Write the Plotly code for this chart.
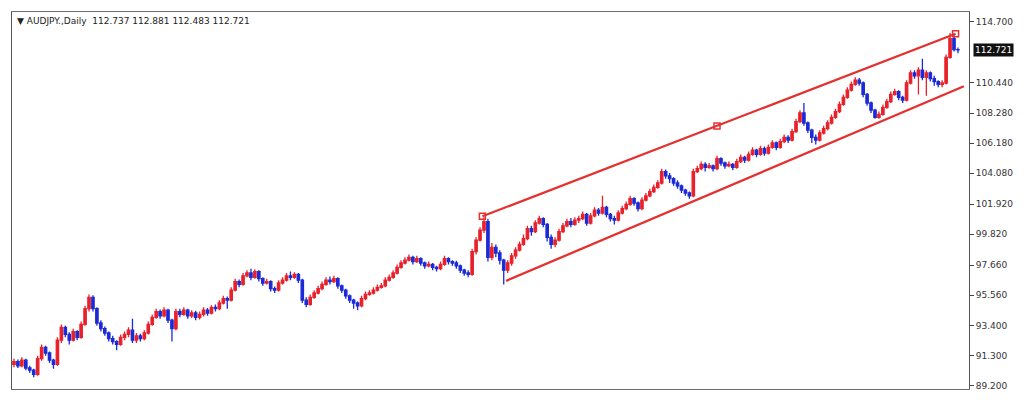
import plotly.graph_objects as go

# ---- data (AUDJPY daily) ----
first_open = 90.70
closes = [
    90.90, 90.60, 91.00, 90.45, 90.30, 90.00, 91.10, 91.90, 91.50, 91.00,
    90.70, 92.40, 93.30, 92.80, 92.40, 93.00, 92.60, 93.50, 94.60, 95.40,
    94.60, 93.60, 93.20, 92.90, 92.50, 92.30, 92.10, 92.60, 92.80, 93.10,
    92.40, 92.70, 92.50, 92.90, 93.50, 94.00, 94.40, 94.10, 94.50, 93.80,
    93.20, 94.40, 94.20, 94.50, 94.10, 94.30, 94.00, 94.20, 94.50, 94.30,
    94.70, 94.60, 95.00, 95.30, 95.20, 95.90, 96.50, 96.30, 96.90, 97.10,
    96.80, 97.20, 96.70, 96.40, 96.50, 96.00, 95.90, 96.40, 96.60, 96.90,
    96.80, 97.00, 96.60, 95.20, 94.90, 95.40, 95.70, 96.00, 96.30, 96.60,
    96.50, 96.70, 96.20, 95.90, 95.50, 95.20, 95.00, 94.80, 95.30, 95.60,
    95.70, 95.90, 96.10, 96.20, 96.60, 96.80, 97.10, 97.50, 97.80, 98.00,
    98.20, 97.90, 98.10, 97.80, 97.60, 97.70, 97.50, 97.40, 97.70, 98.10,
    97.90, 97.80, 97.60, 97.30, 97.10, 97.00, 98.60, 99.40, 100.10, 100.70,
    98.20, 98.90, 98.50, 98.00, 97.30, 97.80, 98.30, 98.70, 99.10, 99.50,
    100.20, 100.00, 100.60, 100.90, 100.50, 99.60, 99.10, 99.40, 100.00, 100.40,
    100.70, 100.50, 100.80, 100.90, 101.20, 100.60, 101.10, 101.50, 101.30, 101.70,
    101.20, 100.90, 100.80, 101.30, 101.60, 101.90, 102.30, 102.00, 101.60, 102.20,
    102.50, 102.80, 103.10, 103.40, 104.20, 103.90, 103.70, 103.40, 103.20, 102.90,
    102.70, 102.50, 104.20, 104.40, 104.70, 104.50, 104.60, 104.40, 105.10, 104.80,
    104.60, 104.70, 104.50, 104.90, 105.20, 105.00, 105.40, 105.70, 105.40, 105.80,
    105.50, 105.90, 106.20, 105.90, 106.30, 106.60, 106.40, 107.00, 107.70, 108.30,
    107.60, 107.10, 106.60, 106.40, 106.90, 107.20, 107.60, 108.00, 108.40, 108.90,
    109.40, 109.90, 110.30, 110.60, 110.40, 109.60, 109.00, 108.50, 108.00, 108.20,
    108.70, 109.10, 109.60, 109.80, 109.40, 109.20, 110.40, 111.10, 110.90, 111.30,
    110.80, 111.10, 110.70, 110.50, 110.30, 110.40, 112.20, 113.50, 112.737, 112.721,
]
highs = [
    91.10, 91.05, 91.20, 91.10, 90.60, 90.40, 91.30, 92.10, 92.00, 91.60,
    91.10, 92.60, 93.50, 93.40, 92.95, 93.20, 93.10, 93.70, 94.80, 95.60,
    95.55, 94.70, 93.80, 93.35, 93.00, 92.70, 92.40, 92.80, 93.00, 93.30,
    93.90, 92.90, 92.85, 93.10, 93.70, 94.20, 94.60, 94.55, 94.70, 94.60,
    93.90, 94.60, 94.60, 94.70, 94.60, 94.50, 94.45, 94.40, 94.70, 94.65,
    94.85, 94.90, 95.20, 95.50, 95.45, 96.10, 96.70, 96.65, 97.10, 97.30,
    97.40, 97.35, 97.30, 96.80, 96.70, 96.60, 96.15, 96.60, 96.80, 97.10,
    97.20, 97.15, 97.10, 96.70, 95.40, 95.60, 95.90, 96.20, 96.50, 96.80,
    96.85, 96.90, 96.80, 96.30, 96.00, 95.60, 95.30, 95.10, 95.50, 95.80,
    95.90, 96.10, 96.30, 96.40, 96.80, 97.00, 97.30, 97.70, 98.00, 98.20,
    98.40, 98.30, 98.30, 98.20, 97.90, 97.90, 97.80, 97.60, 97.90, 98.30,
    98.20, 98.00, 97.95, 97.70, 97.40, 97.30, 98.80, 99.60, 100.30, 101.00,
    100.90, 99.20, 99.10, 98.70, 98.10, 98.00, 98.50, 98.90, 99.30, 99.80,
    100.40, 100.40, 100.80, 101.10, 101.00, 100.60, 99.80, 99.60, 100.20, 100.60,
    100.90, 100.95, 101.00, 101.10, 101.40, 101.30, 101.30, 101.70, 101.65, 102.50,
    101.80, 101.30, 101.10, 101.50, 101.80, 102.10, 102.50, 102.40, 102.10, 102.40,
    102.70, 103.00, 103.30, 103.60, 104.40, 104.35, 104.10, 103.80, 103.60, 103.30,
    103.00, 102.80, 104.40, 104.60, 104.90, 104.85, 104.80, 104.70, 105.30, 105.20,
    104.90, 104.90, 104.80, 105.10, 105.40, 105.30, 105.60, 105.90, 105.80, 106.00,
    105.95, 106.10, 106.40, 106.30, 106.50, 106.80, 106.75, 107.20, 107.90, 108.50,
    109.00, 107.70, 107.20, 106.80, 107.10, 107.40, 107.80, 108.20, 108.60, 109.10,
    109.60, 110.10, 110.50, 110.80, 110.75, 110.50, 109.70, 109.10, 108.60, 108.40,
    108.90, 109.30, 109.80, 110.00, 109.90, 109.50, 110.60, 111.30, 111.30, 111.50,
    112.10, 111.30, 111.20, 110.90, 110.60, 110.60, 112.40, 113.90, 113.80, 112.881,
]
lows = [
    90.50, 90.45, 90.50, 90.30, 90.10, 89.80, 89.90, 90.95, 91.30, 90.80,
    90.40, 90.60, 92.20, 92.60, 92.10, 92.30, 92.40, 92.50, 93.40, 94.40,
    94.40, 93.40, 93.00, 92.70, 92.30, 92.10, 91.70, 92.00, 92.40, 92.60,
    92.20, 92.20, 92.30, 92.40, 92.80, 93.40, 93.90, 93.90, 94.00, 93.60,
    92.30, 93.10, 94.00, 94.10, 93.90, 93.95, 93.80, 93.85, 94.05, 94.10,
    94.20, 94.40, 94.50, 94.90, 94.60, 95.10, 95.80, 96.10, 96.20, 96.80,
    96.60, 96.70, 96.50, 96.20, 96.30, 95.80, 95.70, 95.80, 96.30, 96.50,
    96.60, 96.70, 96.40, 95.00, 94.70, 94.80, 95.30, 95.60, 95.90, 96.20,
    96.30, 96.40, 96.00, 95.70, 95.30, 95.00, 94.60, 94.50, 94.70, 95.20,
    95.50, 95.60, 95.80, 96.00, 96.10, 96.50, 96.70, 97.00, 97.40, 97.70,
    97.90, 97.70, 97.80, 97.60, 97.40, 97.50, 97.30, 97.20, 97.30, 97.60,
    97.70, 97.60, 97.40, 97.10, 96.90, 96.80, 96.90, 98.40, 99.30, 99.90,
    97.90, 98.00, 98.20, 97.70, 96.30, 97.10, 97.60, 98.10, 98.60, 99.00,
    99.40, 99.70, 99.90, 100.50, 100.30, 99.30, 98.80, 98.90, 99.30, 99.90,
    100.30, 100.30, 100.40, 100.60, 100.80, 100.40, 100.50, 101.00, 101.10, 101.20,
    101.00, 100.70, 100.50, 100.70, 101.20, 101.50, 101.80, 101.80, 101.40, 101.50,
    102.10, 102.40, 102.70, 103.00, 103.30, 103.70, 103.40, 103.20, 103.00, 102.70,
    102.50, 102.30, 102.40, 104.10, 104.30, 104.20, 104.40, 104.20, 104.30, 104.60,
    104.40, 104.50, 104.30, 104.40, 104.80, 104.80, 104.90, 105.30, 105.20, 105.30,
    105.30, 105.40, 105.80, 105.70, 105.80, 106.20, 106.20, 106.30, 106.90, 107.60,
    107.40, 106.90, 106.20, 106.10, 106.30, 106.80, 107.10, 107.50, 107.90, 108.30,
    108.80, 109.30, 109.80, 110.20, 110.20, 109.40, 108.80, 108.30, 107.90, 107.90,
    108.10, 108.60, 109.00, 109.50, 109.20, 109.00, 109.10, 110.30, 110.70, 109.60,
    110.60, 109.50, 110.50, 110.20, 110.10, 110.10, 110.30, 112.10, 112.60, 112.483,
]
opens = [first_open] + closes[:-1]
bars = list(range(len(closes)))

# channel drawn on the chart (bar index, price)
upper_x = [118.6, 178.0, 238.4]
upper_y = [101.07, 107.39, 113.85]
lower_x = [124.6, 240.5]
lower_y = [96.55, 110.17]

tick_vals = [89.200, 91.300, 93.400, 95.560, 97.660, 99.820, 101.920,
             104.080, 106.180, 108.280, 110.440, 114.700]
last_price = 112.721
header = "\u25BC AUDJPY.,Daily  112.737 112.881 112.483 112.721"

RED = "#e8212b"
BLUE = "#1c2ad6"
LINE_RED = "#e53030"

fig = go.Figure()
fig.add_trace(go.Candlestick(
    x=bars, open=opens, high=highs, low=lows, close=closes,
    increasing=dict(line=dict(color=RED, width=1.3), fillcolor=RED),
    decreasing=dict(line=dict(color=BLUE, width=1.3), fillcolor=BLUE),
    whiskerwidth=0, showlegend=False, hoverinfo="skip",
))
fig.add_trace(go.Scatter(
    x=upper_x, y=upper_y, mode="lines+markers",
    line=dict(color=LINE_RED, width=2.3),
    marker=dict(symbol="square-open", size=6, color=LINE_RED, line=dict(width=1.5)),
    showlegend=False, hoverinfo="skip",
))
fig.add_trace(go.Scatter(
    x=lower_x, y=lower_y, mode="lines",
    line=dict(color=LINE_RED, width=2.3),
    showlegend=False, hoverinfo="skip",
))

fig.update_layout(
    width=1024, height=402,
    margin=dict(l=11, r=51, t=11, b=11),
    paper_bgcolor="white", plot_bgcolor="white",
    boxgap=0.15,
    xaxis=dict(range=[-0.5, 241.8], showgrid=False, zeroline=False,
               showticklabels=False, ticks="", rangeslider=dict(visible=False),
               showline=True, linecolor="#6d6d6d", linewidth=1, mirror=True),
    yaxis=dict(side="right", range=[88.98, 115.37], showgrid=False, zeroline=False,
               tickvals=tick_vals, ticktext=[f"{v:.3f}" for v in tick_vals],
               ticks="outside", ticklen=4, tickcolor="#444",
               tickfont=dict(family="DejaVu Sans", size=9, color="#333"),
               showline=True, linecolor="#555", linewidth=1, mirror=True),
    annotations=[
        dict(x=0, y=1, xref="paper", yref="paper", xanchor="left", yanchor="top",
             xshift=3, yshift=-2, text=header, showarrow=False,
             font=dict(family="DejaVu Sans", size=9, color="#222")),
        dict(x=1, y=last_price, xref="paper", yref="y", xanchor="left", yanchor="middle",
             xshift=4, text=f"{last_price:.3f}", showarrow=False, bgcolor="#111",
             borderpad=1, font=dict(family="DejaVu Sans", size=9, color="white")),
    ],
)

fig.write_html("out.html", config={"displayModeBar": False, "staticPlot": True})
